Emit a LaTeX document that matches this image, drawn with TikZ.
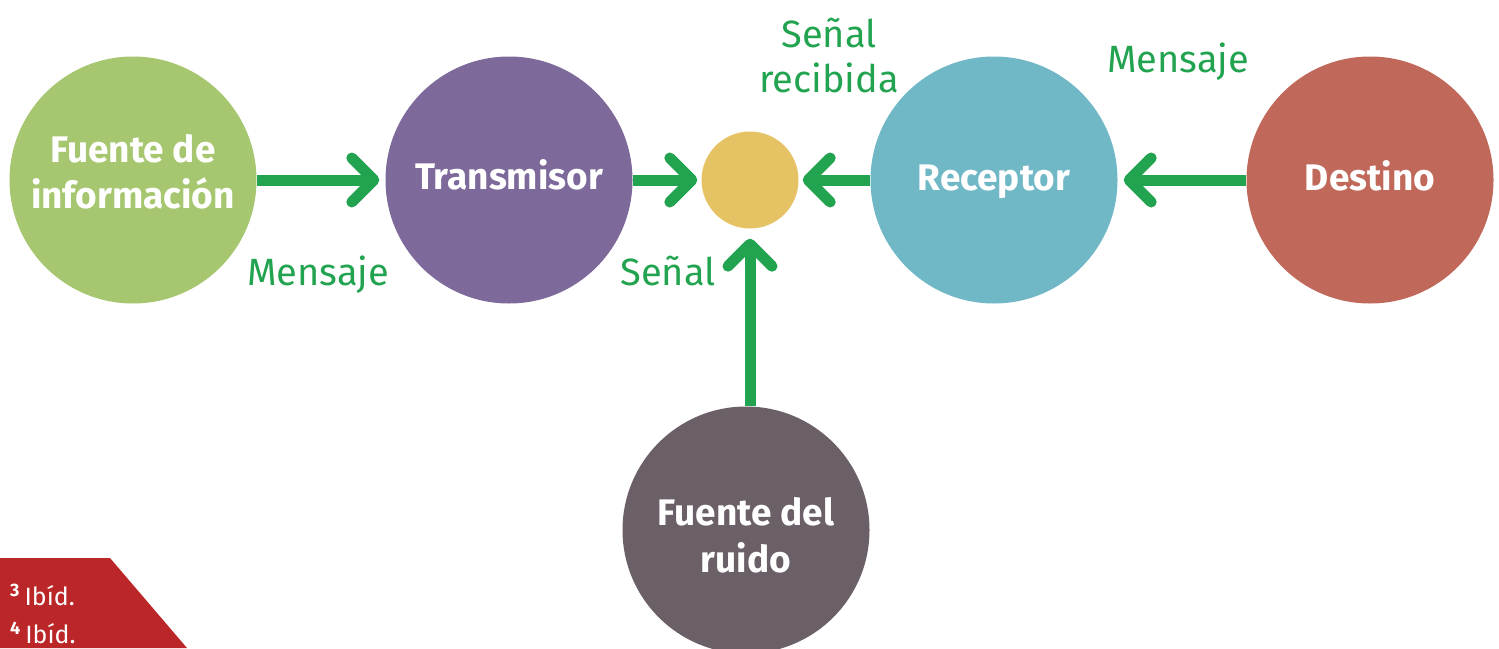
\documentclass[tikz,border=0pt]{standalone}
\usepackage{fontspec}
\setmainfont{Fira Sans}
\usetikzlibrary{arrows.meta}
\definecolor{cgreen}{HTML}{21A34F}
\definecolor{cfuente}{HTML}{A6C76F}
\definecolor{ctrans}{HTML}{7D6A9A}
\definecolor{cyel}{HTML}{E5C365}
\definecolor{crec}{HTML}{71B8C7}
\definecolor{cdest}{HTML}{C0685A}
\definecolor{cruido}{HTML}{6B6067}
\definecolor{cfoot}{HTML}{BB2628}
\tikzset{
  bigc/.style={circle,inner sep=0pt,minimum size=247pt},
  ctext/.style={text=white,anchor=base,inner sep=0pt,
     font=\fontsize{37}{46}\selectfont\bfseries},
  flow/.style={draw=cgreen,line width=11pt,
     -{Straight Barb[length=22pt,width=44pt,line join=round,line cap=round]}},
  lbl/.style={text=cgreen,anchor=base,inner sep=0pt,font=\fontsize{38}{47}\selectfont},
  foot/.style={text=white,anchor=base west,inner sep=0pt,font=\fontsize{25}{28}\selectfont}
}
\begin{document}
\begin{tikzpicture}[x=1pt,y=-1pt]
\useasboundingbox (0,0) rectangle (1499,648);
\begin{scope}
\clip (0,0) rectangle (1499,648);
\node[bigc,fill=cfuente] (fuente) at (133,180) {};
\node[bigc,fill=ctrans] (trans) at (509,180) {};
\node[circle,inner sep=0pt,minimum size=97pt,fill=cyel] (canal) at (750,180) {};
\node[bigc,fill=crec] (rec) at (994,180) {};
\node[bigc,fill=cdest] (dest) at (1370,180) {};
\node[bigc,fill=cruido] (ruido) at (746,530) {};
\fill[cfoot] (0,558) -- (110,558) -- (187,648) -- (0,648) -- cycle;
\end{scope}
\node[ctext] (fuente1) at (133,162) {Fuente de};
\node[ctext] (fuente2) at (133,208) {información};
\node[ctext] (transt) at (509,189) {Transmisor};
\node[ctext] (rect) at (994,190) {Receptor};
\node[ctext] (destt) at (1370,190) {Destino};
\node[ctext] (ruido1) at (746,525) {Fuente del};
\node[ctext] (ruido2) at (746,572) {ruido};
\coordinate (t1) at ([xshift=-6pt]trans.west);
\coordinate (t2) at ([xshift=-4pt]canal.west);
\coordinate (t3) at ([xshift=4pt]canal.east);
\coordinate (t4) at ([xshift=6pt]rec.east);
\coordinate (t5) at ([yshift=-10pt]canal.south);
\draw[flow] (fuente.east) -- (t1);
\draw[flow] (trans.east) -- (t2);
\draw[flow] (rec.west) -- (t3);
\draw[flow] (dest.west) -- (t4);
\draw[flow] (t5 |- ruido.north) -- (t5);
\node[lbl] (l1) at (318,285) {Mensaje};
\node[lbl] (l2) at (668,285) {Señal};
\node[lbl] (l3a) at (829,47) {Señal};
\node[lbl] (l3b) at (829,92) {recibida};
\node[lbl] (l4) at (1178,72) {Mensaje};
\node[foot] (f1) at (10,605) {\textbf{\fontsize{18}{18}\selectfont\raisebox{9pt}{3}}\kern5pt Ibíd.};
\node[foot] (f2) at (10,643) {\textbf{\fontsize{18}{18}\selectfont\raisebox{9pt}{4}}\kern5pt Ibíd.};
\end{tikzpicture}
\end{document}
